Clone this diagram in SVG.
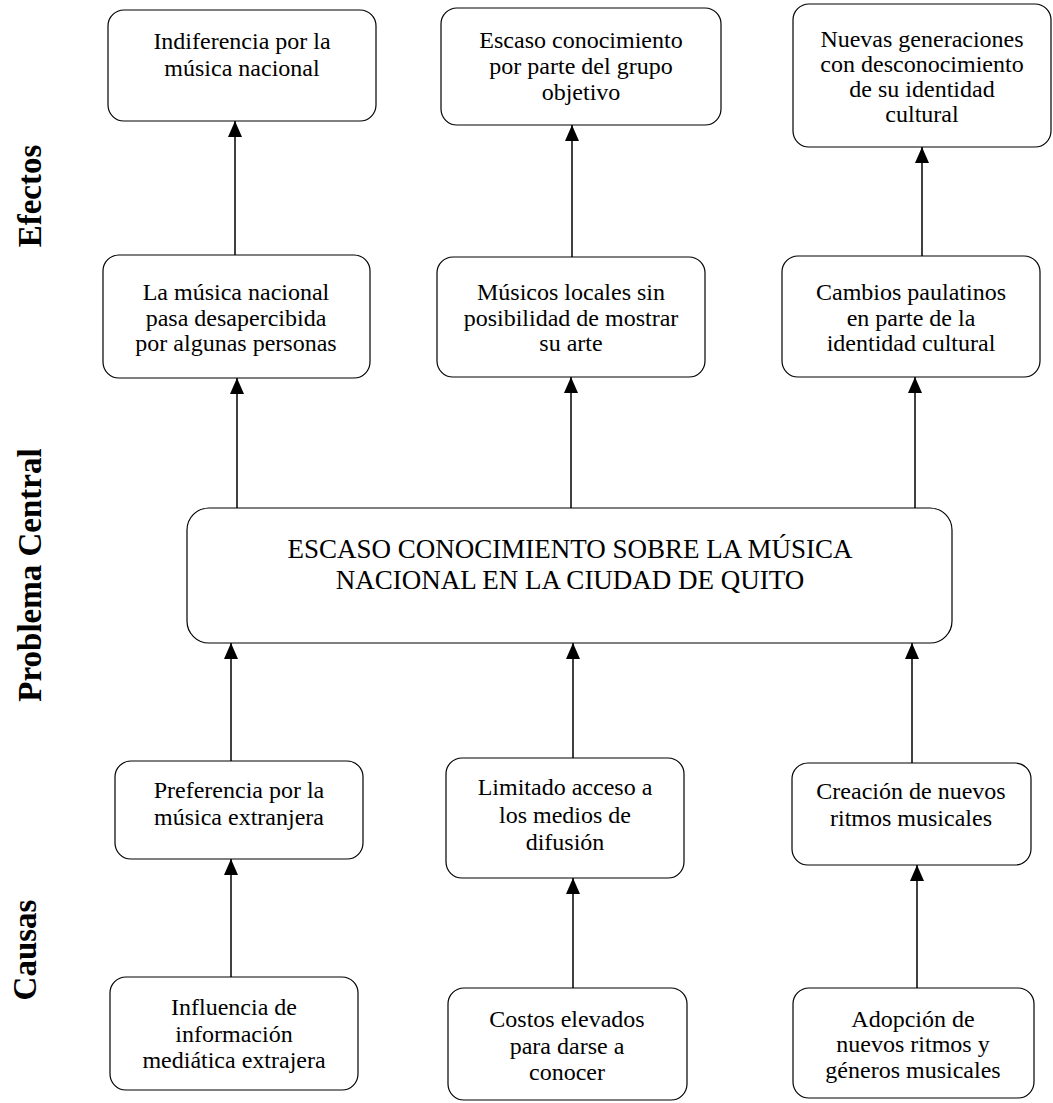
<svg xmlns="http://www.w3.org/2000/svg" width="1053" height="1103" viewBox="0 0 1053 1103">
<defs>
<style>
.box{fill:#fff;stroke:#000;stroke-width:1.2}
.t{font-family:"Liberation Serif","Times New Roman",serif;font-size:24px;fill:#000;text-anchor:middle}
.tc{font-family:"Liberation Serif","Times New Roman",serif;font-size:27px;fill:#000;text-anchor:middle}
.lab{font-family:"Liberation Serif","Times New Roman",serif;font-size:33px;font-weight:bold;fill:#000;text-anchor:middle}
.arr{stroke:#000;stroke-width:1.5;fill:none;marker-end:url(#ah)}
</style>
<marker id="ah" markerUnits="userSpaceOnUse" markerWidth="18" markerHeight="18" viewBox="0 0 18 18" refX="16" refY="9" orient="auto">
<path d="M0,2 L16,9 L0,16 Z" fill="#000"/>
</marker>
</defs>
<rect width="1053" height="1103" fill="#fff"/>

<g id="labels">
<text class="lab" transform="translate(41,196) rotate(-90)">Efectos</text>
<text class="lab" transform="translate(41,575) rotate(-90)">Problema Central</text>
<text class="lab" transform="translate(36,950) rotate(-90)">Causas</text>
</g>

<g id="connectors">
<line class="arr" x1="235" y1="255" x2="235" y2="121"/>
<line class="arr" x1="572" y1="257" x2="572" y2="125"/>
<line class="arr" x1="922" y1="256" x2="922" y2="147"/>
<line class="arr" x1="237" y1="508" x2="237" y2="378"/>
<line class="arr" x1="571" y1="508" x2="571" y2="377"/>
<line class="arr" x1="915" y1="508" x2="915" y2="377"/>
<line class="arr" x1="231" y1="761" x2="231" y2="643"/>
<line class="arr" x1="573" y1="758" x2="573" y2="643"/>
<line class="arr" x1="912" y1="763" x2="912" y2="643"/>
<line class="arr" x1="231" y1="977" x2="231" y2="859"/>
<line class="arr" x1="573" y1="988" x2="573" y2="878"/>
<line class="arr" x1="917" y1="988" x2="917" y2="865"/>
</g>

<g id="e1">
<rect class="box" x="108" y="10" width="268" height="111" rx="16"/>
<text class="t" x="242" y="49">Indiferencia por la</text>
<text class="t" x="242" y="76">música nacional</text>
</g>
<g id="e2">
<rect class="box" x="441" y="8" width="280" height="117" rx="16"/>
<text class="t" x="581" y="48">Escaso conocimiento</text>
<text class="t" x="581" y="74">por parte del grupo</text>
<text class="t" x="581" y="100">objetivo</text>
</g>
<g id="e3">
<rect class="box" x="793" y="4" width="258" height="143" rx="16"/>
<text class="t" x="922" y="47">Nuevas generaciones</text>
<text class="t" x="922" y="72">con desconocimiento</text>
<text class="t" x="922" y="97">de su identidad</text>
<text class="t" x="922" y="122">cultural</text>
</g>

<g id="e4">
<rect class="box" x="103" y="255" width="267" height="123" rx="16"/>
<text class="t" x="236" y="300">La música nacional</text>
<text class="t" x="236" y="326">pasa desapercibida</text>
<text class="t" x="236" y="351">por algunas personas</text>
</g>
<g id="e5">
<rect class="box" x="437" y="257" width="268" height="120" rx="16"/>
<text class="t" x="571" y="300">Músicos locales sin</text>
<text class="t" x="571" y="326">posibilidad de mostrar</text>
<text class="t" x="571" y="351">su arte</text>
</g>
<g id="e6">
<rect class="box" x="782" y="256" width="258" height="121" rx="16"/>
<text class="t" x="911" y="300">Cambios paulatinos</text>
<text class="t" x="911" y="326">en parte de la</text>
<text class="t" x="911" y="351">identidad cultural</text>
</g>

<g id="central">
<rect class="box" x="187" y="508" width="765" height="135" rx="22"/>
<text class="tc" x="570" y="558">ESCASO CONOCIMIENTO SOBRE LA MÚSICA</text>
<text class="tc" x="570" y="589">NACIONAL EN LA CIUDAD DE QUITO</text>
</g>

<g id="c1">
<rect class="box" x="115" y="761" width="248" height="98" rx="16"/>
<text class="t" x="239" y="798">Preferencia por la</text>
<text class="t" x="239" y="825">música extranjera</text>
</g>
<g id="c2">
<rect class="box" x="446" y="758" width="238" height="120" rx="16"/>
<text class="t" x="565" y="795">Limitado acceso a</text>
<text class="t" x="565" y="823">los medios de</text>
<text class="t" x="565" y="850">difusión</text>
</g>
<g id="c3">
<rect class="box" x="792" y="763" width="239" height="102" rx="16"/>
<text class="t" x="911" y="799">Creación de nuevos</text>
<text class="t" x="911" y="826">ritmos musicales</text>
</g>

<g id="c4">
<rect class="box" x="110" y="977" width="248" height="113" rx="16"/>
<text class="t" x="234" y="1015">Influencia de</text>
<text class="t" x="234" y="1042">información</text>
<text class="t" x="234" y="1068">mediática extrajera</text>
</g>
<g id="c5">
<rect class="box" x="448" y="988" width="239" height="112" rx="16"/>
<text class="t" x="567" y="1027">Costos elevados</text>
<text class="t" x="567" y="1054">para darse a</text>
<text class="t" x="567" y="1080">conocer</text>
</g>
<g id="c6">
<rect class="box" x="793" y="988" width="241" height="110" rx="16"/>
<text class="t" x="913" y="1027">Adopción de</text>
<text class="t" x="913" y="1052">nuevos ritmos y</text>
<text class="t" x="913" y="1078">géneros musicales</text>
</g>
</svg>
